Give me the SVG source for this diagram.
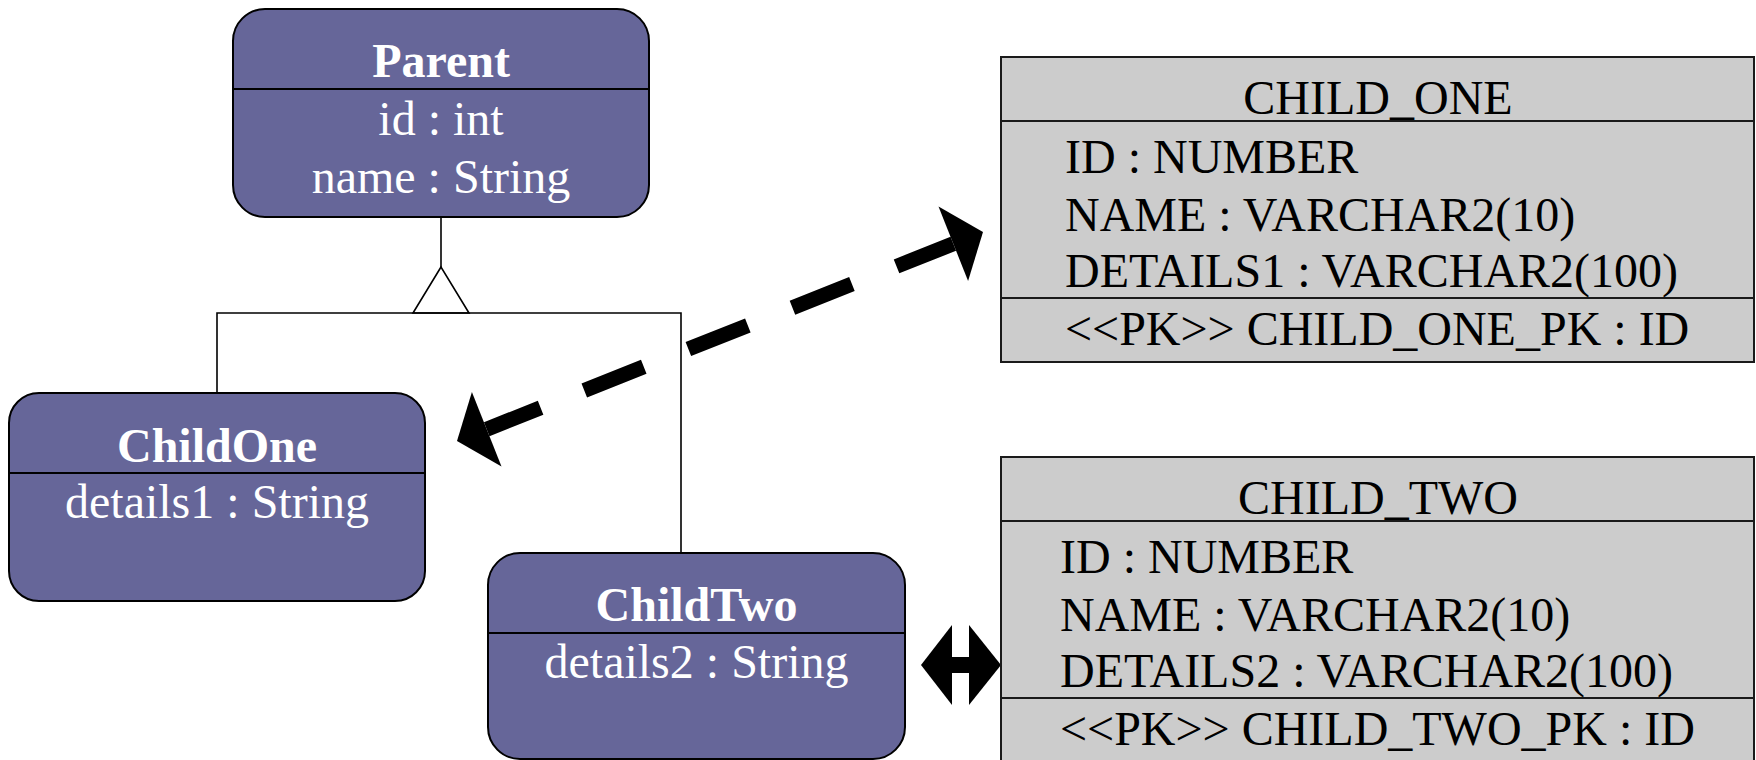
<svg xmlns="http://www.w3.org/2000/svg" width="1756" height="760" viewBox="0 0 1756 760">
  <style>
    .cls { fill: #666699; stroke: #000; stroke-width: 2; }
    .tbl { fill: #cccccc; stroke: #1a1a1a; stroke-width: 2; }
    .sep { stroke: #000; stroke-width: 2; fill: none; }
    .tsep { stroke: #1a1a1a; stroke-width: 2; fill: none; }
    .cname { font-family: "Liberation Serif", "Times New Roman", serif; font-size: 48px; font-weight: bold; fill: #fff; text-anchor: middle; }
    .cattr { font-family: "Liberation Serif", "Times New Roman", serif; font-size: 48px; fill: #fff; text-anchor: middle; }
    .tname { font-family: "Liberation Serif", "Times New Roman", serif; font-size: 48px; fill: #000; text-anchor: middle; }
    .tattr { font-family: "Liberation Serif", "Times New Roman", serif; font-size: 48px; fill: #000; }
    .link { stroke: #000; stroke-width: 1.6; fill: none; }
    .head { fill: #000; stroke: none; }
  </style>

  <!-- connectors -->
  <g id="connectors">
    <!-- generalization: Parent <- ChildOne, ChildTwo -->
    <line class="link" x1="441" y1="217" x2="441" y2="267"/>
    <polygon points="441,267 413,313 469,313" fill="#fff" stroke="#000" stroke-width="1.6"/>
    <polyline class="link" points="217,393 217,313 681,313 681,553"/>

    <!-- mapping ChildOne <-> CHILD_ONE (dashed, arrows both ends) -->
    <line x1="486.7" y1="429.2" x2="953.3" y2="243.8" stroke="#000" stroke-width="15" stroke-dasharray="58 47 64 48 64 48 64 48 100"/>
    <polygon class="head" points="457,441 501.5,466.4 471.9,392"/>
    <polygon class="head" points="983,232 938.5,206.6 968.1,281"/>

    <!-- mapping ChildTwo <-> CHILD_TWO (solid, arrows both ends) -->
    <rect class="head" x="950" y="657" width="21" height="16"/>
    <polygon class="head" points="921,665 952,625 952,705"/>
    <polygon class="head" points="1001,665 969,625 969,705"/>
  </g>

  <!-- class Parent -->
  <g id="parent">
    <rect class="cls" x="233" y="9" width="416" height="208" rx="32" ry="32"/>
    <line class="sep" x1="233" y1="89" x2="649" y2="89"/>
    <text class="cname" x="441" y="77">Parent</text>
    <text class="cattr" x="441" y="135">id : int</text>
    <text class="cattr" x="441" y="193">name : String</text>
  </g>

  <!-- class ChildOne -->
  <g id="child-one">
    <rect class="cls" x="9" y="393" width="416" height="208" rx="30" ry="30"/>
    <line class="sep" x1="9" y1="473" x2="425" y2="473"/>
    <text class="cname" x="217" y="462">ChildOne</text>
    <text class="cattr" x="217" y="518">details1 : String</text>
  </g>

  <!-- class ChildTwo -->
  <g id="child-two">
    <rect class="cls" x="488" y="553" width="417" height="206" rx="32" ry="32"/>
    <line class="sep" x1="488" y1="633" x2="905" y2="633"/>
    <text class="cname" x="696.5" y="621">ChildTwo</text>
    <text class="cattr" x="696.5" y="678">details2 : String</text>
  </g>

  <!-- table CHILD_ONE -->
  <g id="table-child-one">
    <rect class="tbl" x="1001" y="57" width="753" height="305"/>
    <line class="tsep" x1="1001" y1="121" x2="1754" y2="121"/>
    <line class="tsep" x1="1001" y1="298" x2="1754" y2="298"/>
    <text class="tname" x="1378" y="114">CHILD_ONE</text>
    <text class="tattr" x="1065" y="173">ID : NUMBER</text>
    <text class="tattr" x="1065" y="231">NAME : VARCHAR2(10)</text>
    <text class="tattr" x="1065" y="287">DETAILS1 : VARCHAR2(100)</text>
    <text class="tattr" x="1065" y="345">&lt;&lt;PK&gt;&gt; CHILD_ONE_PK : ID</text>
  </g>

  <!-- table CHILD_TWO -->
  <g id="table-child-two">
    <rect class="tbl" x="1001" y="457" width="753" height="340"/>
    <line class="tsep" x1="1001" y1="521" x2="1754" y2="521"/>
    <line class="tsep" x1="1001" y1="698" x2="1754" y2="698"/>
    <text class="tname" x="1378" y="514">CHILD_TWO</text>
    <text class="tattr" x="1060" y="573">ID : NUMBER</text>
    <text class="tattr" x="1060" y="631">NAME : VARCHAR2(10)</text>
    <text class="tattr" x="1060" y="687">DETAILS2 : VARCHAR2(100)</text>
    <text class="tattr" x="1060" y="745">&lt;&lt;PK&gt;&gt; CHILD_TWO_PK : ID</text>
  </g>
</svg>
